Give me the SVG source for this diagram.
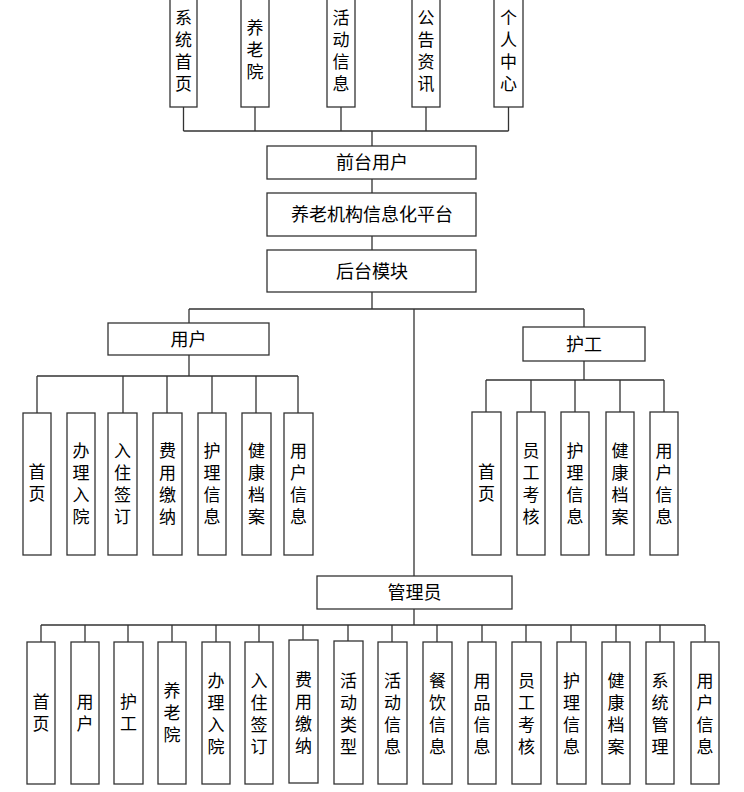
<svg xmlns="http://www.w3.org/2000/svg" width="744" height="792" viewBox="0 0 744 792">
<style>
rect{fill:#fff;stroke:#333;stroke-width:1.3}
.c path{fill:none;stroke:#333;stroke-width:1.3}
text{font-family:"Noto Sans CJK SC","Noto Sans",sans-serif;font-size:18px;fill:#000;text-anchor:middle}
text.v{font-size:17px;writing-mode:vertical-rl;letter-spacing:5px}
</style>
<rect x="0" y="0" width="744" height="792" style="stroke:none"/>
<g class="c" id="connectors">
<path d="M183.5 107V131M255 107V131M341 107V131M426 107V131M508.5 107V131M183.5 131H508.5M372 131V146"/>
<path d="M372 179V193M372 236V250M372 292V309M189 309H584M189 309V323M584 309V327M414 309V576"/>
<path d="M189 355V376M37 376H298M37 376V413M123 376V413M167 376V413M212 376V413M256 376V413M298 376V413"/>
<path d="M584 361V380M486 380H664M486 380V412M531 380V412M575 380V412M620 380V412M664 380V412"/>
<path d="M414 609V625M41 625H705M41 625V642M85 625V642M128 625V642M172 625V642M216 625V642M259 625V642M303 625V642M348 625V642M392 625V642M437 625V642M482 625V642M526 625V642M571 625V642M616 625V642M660 625V642M705 625V642"/>
</g>
<g id="top-xtsy"><rect x="170" y="-2" width="27" height="109"/><text class="v" x="183.5" y="53">系统首页</text></g>
<g id="top-yly"><rect x="241" y="-2" width="28" height="109"/><text class="v" x="255" y="52.5">养老院</text></g>
<g id="top-hdxx"><rect x="327" y="-2" width="28" height="109"/><text class="v" x="341" y="53">活动信息</text></g>
<g id="top-ggzx"><rect x="412" y="-2" width="28" height="109"/><text class="v" x="426" y="53">公告资讯</text></g>
<g id="top-grzx"><rect x="494" y="-2" width="29" height="109"/><text class="v" x="508.5" y="53">个人中心</text></g>
<g id="qtyh"><rect x="267" y="146" width="209" height="33"/><text x="372" y="168.5">前台用户</text></g>
<g id="platform"><rect x="267" y="193" width="209" height="43"/><text x="372" y="221">养老机构信息化平台</text></g>
<g id="htmk"><rect x="267" y="250" width="209" height="42"/><text x="372" y="277.5">后台模块</text></g>
<g id="user"><rect x="108" y="323" width="161" height="32"/><text x="188.5" y="345.5">用户</text></g>
<g id="u1"><rect x="23" y="413" width="28" height="142"/><text class="v" x="37" y="485">首页</text></g>
<g id="u2"><rect x="67" y="413" width="28" height="142"/><text class="v" x="81" y="486">办理入院</text></g>
<g id="u3"><rect x="108" y="413" width="29" height="142"/><text class="v" x="122.5" y="486">入住签订</text></g>
<g id="u4"><rect x="153" y="413" width="29" height="142"/><text class="v" x="167.5" y="486">费用缴纳</text></g>
<g id="u5"><rect x="198" y="413" width="28" height="142"/><text class="v" x="212" y="486">护理信息</text></g>
<g id="u6"><rect x="242" y="413" width="29" height="142"/><text class="v" x="256.5" y="486">健康档案</text></g>
<g id="u7"><rect x="284" y="413" width="29" height="142"/><text class="v" x="298.5" y="486">用户信息</text></g>
<g id="nurse"><rect x="523" y="327" width="122" height="34"/><text x="584" y="350.5">护工</text></g>
<g id="n1"><rect x="472" y="412" width="29" height="143"/><text class="v" x="486.5" y="485">首页</text></g>
<g id="n2"><rect x="517" y="412" width="28" height="143"/><text class="v" x="531" y="486">员工考核</text></g>
<g id="n3"><rect x="561" y="412" width="28" height="143"/><text class="v" x="575" y="486">护理信息</text></g>
<g id="n4"><rect x="606" y="412" width="28" height="143"/><text class="v" x="620" y="486">健康档案</text></g>
<g id="n5"><rect x="650" y="412" width="28" height="143"/><text class="v" x="664" y="486">用户信息</text></g>
<g id="admin"><rect x="317" y="576" width="195" height="33"/><text x="414.5" y="599">管理员</text></g>
<g id="a1"><rect x="27" y="642" width="28" height="142"/><text class="v" x="41" y="715">首页</text></g>
<g id="a2"><rect x="71" y="642" width="28" height="142"/><text class="v" x="85" y="715">用户</text></g>
<g id="a3"><rect x="114" y="642" width="29" height="142"/><text class="v" x="128.5" y="715">护工</text></g>
<g id="a4"><rect x="158" y="642" width="28" height="142"/><text class="v" x="172" y="715">养老院</text></g>
<g id="a5"><rect x="202" y="642" width="28" height="142"/><text class="v" x="216" y="716">办理入院</text></g>
<g id="a6"><rect x="245" y="642" width="28" height="142"/><text class="v" x="259" y="716">入住签订</text></g>
<g id="a7"><rect x="289" y="640" width="29" height="143"/><text class="v" x="303.5" y="715">费用缴纳</text></g>
<g id="a8"><rect x="334" y="641" width="29" height="143"/><text class="v" x="348.5" y="716">活动类型</text></g>
<g id="a9"><rect x="378" y="642" width="29" height="142"/><text class="v" x="392.5" y="716">活动信息</text></g>
<g id="a10"><rect x="423" y="642" width="29" height="142"/><text class="v" x="437.5" y="716">餐饮信息</text></g>
<g id="a11"><rect x="468" y="642" width="28" height="142"/><text class="v" x="482" y="716">用品信息</text></g>
<g id="a12"><rect x="512" y="642" width="29" height="142"/><text class="v" x="526.5" y="716">员工考核</text></g>
<g id="a13"><rect x="557" y="642" width="29" height="142"/><text class="v" x="571.5" y="716">护理信息</text></g>
<g id="a14"><rect x="602" y="642" width="28" height="142"/><text class="v" x="616" y="716">健康档案</text></g>
<g id="a15"><rect x="646" y="642" width="28" height="142"/><text class="v" x="660" y="716">系统管理</text></g>
<g id="a16"><rect x="691" y="642" width="28" height="142"/><text class="v" x="705" y="716">用户信息</text></g>
</svg>
